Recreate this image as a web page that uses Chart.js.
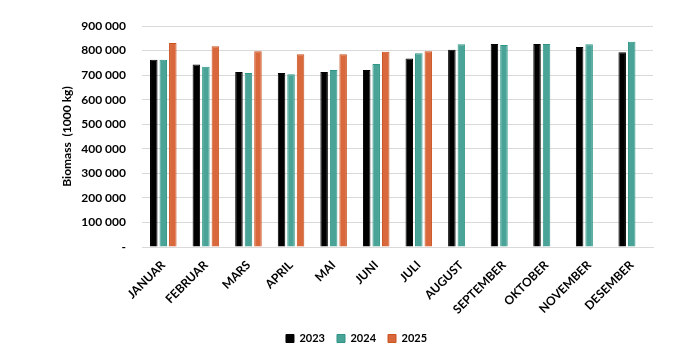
<!DOCTYPE html>
<html>
<head>
<meta charset="utf-8">
<script src="https://cdn.jsdelivr.net/npm/chart.js@4"></script>
<style>
  html, body { margin: 0; padding: 0; background: #fff; }
  #wrap { width: 685px; height: 354px; }
</style>
</head>
<body>
<div id="wrap"><canvas id="myChart"></canvas></div>
<script>
const months = ['JANUAR', 'FEBRUAR', 'MARS', 'APRIL', 'MAI', 'JUNI', 'JULI', 'AUGUST', 'SEPTEMBER', 'OKTOBER', 'NOVEMBER', 'DESEMBER'];
const values2023 = [763000, 743000, 713000, 709000, 713000, 721000, 768000, 803000, 827000, 827000, 814000, 793000];
const values2024 = [763000, 734000, 709000, 704000, 721000, 745000, 789000, 826000, 823000, 827000, 826000, 836000];
const values2025 = [831000, 818000, 797000, 785000, 785000, 795000, 797000, null, null, null, null, null];

const fmt = v => v === 0 ? '-' : String(v).replace(/\B(?=(\d{3})+(?!\d))/g, ' ');

const ctx = document.getElementById('myChart');

new Chart(ctx.getContext('2d'), {
  type: 'bar',
  data: {
    labels: months,
    datasets: [
      { label: '2023', data: values2023, backgroundColor: '#000000', borderColor: '#000000', borderWidth: 1 },
      { label: '2024', data: values2024, backgroundColor: '#4aa397', borderColor: '#2e9686', borderWidth: 1 },
      { label: '2025', data: values2025, backgroundColor: '#d9683c', borderColor: '#c9521f', borderWidth: 1 }
    ]
  },
  options: {
    responsive: true,
    maintainAspectRatio: false,
    animation: false,
    datasets: { bar: { categoryPercentage: 0.67, barPercentage: 0.79 } },
    layout: { padding: { top: 26, right: 32, bottom: 0, left: 60 } },
    scales: {
      x: {
        grid: { display: false },
        border: { color: '#d9d9d9' },
        ticks: {
          minRotation: 45, maxRotation: 45, autoSkip: false,
          color: '#000', font: { family: 'Lato', weight: 'bold', size: 12 }
        },
        afterFit: s => { s.height = 74; }
      },
      y: {
        min: 0, max: 900000,
        grid: { color: '#d9d9d9', drawTicks: false },
        border: { display: false },
        ticks: {
          stepSize: 100000, padding: 16, color: '#000',
          font: { family: 'Lato', weight: 'bold', size: 12 },
          callback: fmt
        },
        title: {
          display: true, text: 'Biomass  (1000 kg)', color: '#000',
          font: { family: 'Lato', weight: 'bold', size: 12 },
          padding: { top: 0, bottom: 0 }
        },
        afterFit: s => { s.width = 82; }
      }
    },
    plugins: {
      legend: {
        position: 'bottom',
        labels: {
          boxWidth: 8, boxHeight: 8, padding: 12, color: '#000',
          font: { family: 'Lato', weight: 'bold', size: 11 }
        }
      },
      tooltip: { enabled: false }
    }
  }
});
</script>
</body>
</html>
